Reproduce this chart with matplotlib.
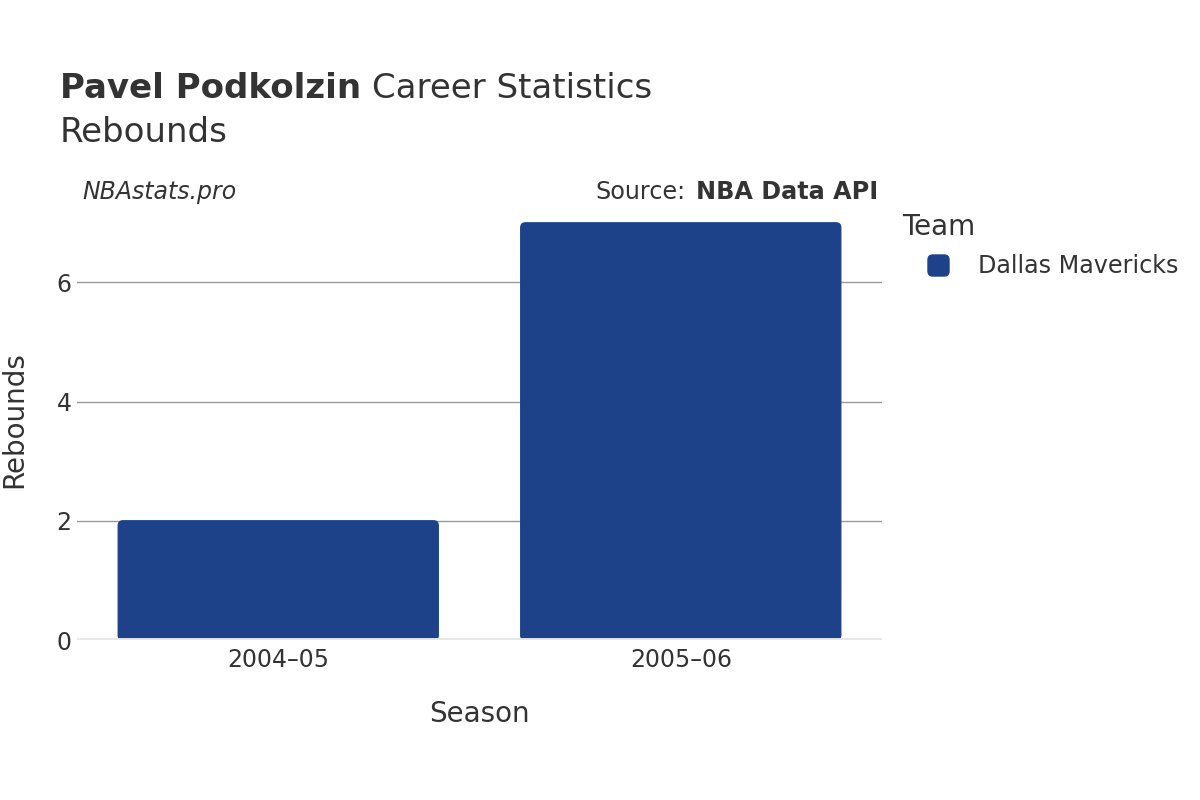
import matplotlib
matplotlib.use("Agg")
import matplotlib.pyplot as plt
from matplotlib.patches import FancyBboxPatch

seasons = ["2004–05", "2005–06"]
rebounds = [2, 7]
team = "Dallas Mavericks"
bar_color = "#1D428A"
yticks = [0, 2, 4, 6]

TXT = '#333333'
plt.rcParams['font.family'] = ['DejaVu Sans']
fig = plt.figure(figsize=(12, 8), dpi=100)
ax = fig.add_axes([77/1200, 1-640/800, (882-77)/1200, (640-199)/800])

x = list(range(len(seasons)))
bars = ax.bar(x, rebounds, width=0.795, color=bar_color, zorder=3)
for b in bars:
    b.set_visible(False)
    bx, by = b.get_x(), b.get_y()
    w, h = b.get_width(), b.get_height()
    p = FancyBboxPatch((bx, by), w, h, boxstyle="round,pad=0,rounding_size=0.012",
                       mutation_aspect=(7.37/2.0)*(805/441), color=bar_color, zorder=3)
    ax.add_patch(p)
    ax.bar(bx + w/2, h*0.1, width=w, color=bar_color, zorder=3)

ax.set_xlim(-0.5, 1.5)
ax.set_ylim(0, 7.4)
ax.set_yticks(yticks)
ax.set_xticks(x)
ax.set_xticklabels(seasons)
ax.grid(axis='y', color='#999999', linewidth=1, zorder=0)
ax.axhline(0, color='#e8e8e8', linewidth=3.5, zorder=4)
for s in ax.spines.values():
    s.set_visible(False)
ax.tick_params(axis='both', length=0, labelsize=17, colors=TXT)
ax.tick_params(axis='x', pad=6)
ax.tick_params(axis='y', pad=4)
ax.set_xlabel("Season", fontsize=20, color=TXT, labelpad=20)
ax.set_ylabel("Rebounds", fontsize=20, color=TXT, labelpad=20)

fig.canvas.draw()
r = fig.canvas.get_renderer()

t1 = fig.text(60/1200, 1-88/800, "Pavel Podkolzin", fontsize=24.5, fontweight='bold', color=TXT, va='center')
bb = t1.get_window_extent(r)
fig.text((bb.x1 + 11)/1200, 1-88/800, "Career Statistics", fontsize=24.5, color=TXT, va='center')
fig.text(60/1200, 1-132/800, "Rebounds", fontsize=24.5, color=TXT, va='center')
fig.text(82/1200, 1-192/800, "NBAstats.pro", fontsize=17, style='italic', color=TXT, va='center')
t2 = fig.text(878/1200, 1-192/800, "NBA Data API", fontsize=17.2, fontweight='bold', color=TXT, va='center', ha='right')
bb2 = t2.get_window_extent(r)
fig.text((bb2.x0 - 10)/1200, 1-192/800, "Source:", fontsize=17.2, color=TXT, va='center', ha='right')

fig.text(902/1200, 1-227/800, "Team", fontsize=20, color=TXT, va='center')
leg = FancyBboxPatch((928/1200, 1-276/800), 21/1200, 21/800, boxstyle="round,pad=0,rounding_size=0.004",
                     transform=fig.transFigure, color=bar_color, mutation_aspect=1.5)
fig.patches.append(leg)
fig.text(978/1200, 1-266/800, team, fontsize=17.2, color=TXT, va='center')

fig.savefig("out.png", dpi=100)
